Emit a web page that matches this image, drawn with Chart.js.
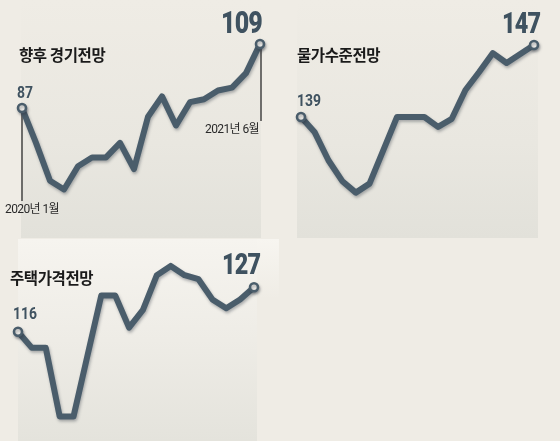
<!DOCTYPE html>
<html><head><meta charset="utf-8">
<script src="https://cdn.jsdelivr.net/npm/chart.js@4.4.1/dist/chart.umd.min.js"></script>
<style>
html,body{margin:0;padding:0;}
body{width:560px;height:441px;background:#efece5;position:relative;overflow:hidden;font-family:"Noto Sans CJK KR","Noto Sans",sans-serif;}
.panel{position:absolute;}
.cv{position:absolute;}
.t{position:absolute;white-space:nowrap;line-height:1;}
.title{font-family:"Noto Sans CJK KR",sans-serif;font-weight:700;font-size:15.5px;color:#1a1a1a;letter-spacing:-0.4px;}
.big{font-family:Roboto,"Liberation Sans",sans-serif;font-weight:900;color:#3f5260;transform-origin:left top;transform:scaleX(0.78);letter-spacing:-1px;}
.num{font-family:Roboto,"Liberation Sans",sans-serif;font-weight:700;color:#3f5260;font-size:17px;transform-origin:left top;transform:scaleX(0.82);}
.date{font-family:Roboto,"Noto Sans CJK KR",sans-serif;font-size:12px;color:#2a2a2a;letter-spacing:-0.6px;}
</style></head>
<body>
<div class="panel" style="left:21px;top:0;width:240px;height:238px;background:linear-gradient(to bottom,rgba(239,236,229,0) 0%,#e9e7e0 60%,#e2e1da 100%);"></div>
<div class="panel" style="left:297px;top:0;width:241px;height:238px;background:linear-gradient(to bottom,rgba(239,236,229,0) 0%,#e9e7e0 60%,#e2e1da 100%);"></div>
<div class="panel" style="left:21px;top:239px;width:258px;height:60px;background:linear-gradient(to bottom,#f7f5f0,rgba(247,245,240,0));"></div>
<div class="panel" style="left:18px;top:239px;width:239px;height:202px;background:linear-gradient(to bottom,#f6f4ef 0%,#eeece6 50%,#e4e3dc 100%);"></div>

<canvas id="c1" class="cv" style="left:12px;top:0;"></canvas>
<canvas id="c2" class="cv" style="left:291px;top:0;"></canvas>
<canvas id="c3" class="cv" style="left:8px;top:239px;"></canvas>

<div class="t title" style="left:19px;top:47px;">향후 경기전망</div>
<div class="t num" style="left:17px;top:84px;">87</div>
<div class="t big" style="left:221px;top:6px;font-size:32px;">109</div>
<div class="t date" style="left:205px;top:123px;">2021년 6월</div>
<div class="t date" style="left:5px;top:203px;">2020년 1월</div>

<div class="t title" style="left:297px;top:47px;">물가수준전망</div>
<div class="t num" style="left:297px;top:92px;">139</div>
<div class="t big" style="left:502px;top:8px;font-size:30px;">147</div>

<div class="t title" style="left:10px;top:270px;">주택가격전망</div>
<div class="t num" style="left:13px;top:305px;">116</div>
<div class="t big" style="left:222px;top:249px;font-size:30px;">127</div>

<script>
const months = ["2020-01","2020-02","2020-03","2020-04","2020-05","2020-06","2020-07","2020-08","2020-09","2020-10","2020-11","2020-12","2021-01","2021-02","2021-03","2021-04","2021-05","2021-06"];
const economyOutlook = [87,75,62,59,67,70,70,75,66,84,91,81,89,90,93,94,99,109];
const priceOutlook = [139,137.3,134.2,131.9,130.6,131.6,135.3,139,139,139,137.9,138.8,142,144,146.1,145,146,147];
const housingOutlook = [116,112,112,95,95,110,125,125,117,121.4,130,132.3,130,129,124,121.8,124,127];

const LINE = '#4a5d6b';
const PAD = 10;

const shadowPlugin = {
  id:'shadow',
  beforeDatasetsDraw(chart){const c=chart.ctx;c.save();c.shadowColor='rgba(40,50,60,0.35)';c.shadowBlur=3;c.shadowOffsetX=1;c.shadowOffsetY=2;},
  afterDatasetsDraw(chart){chart.ctx.restore();}
};
const leaderPlugin = {
  id:'leader',
  beforeDatasetsDraw(chart, args, opts){
    if(!opts || !opts.lines) return;
    const meta = chart.getDatasetMeta(0);
    const c = chart.ctx; c.save();
    c.strokeStyle='#2b2b2b'; c.lineWidth=1.3;
    opts.lines.forEach(l=>{
      const p = meta.data[l.index];
      c.beginPath(); c.moveTo(p.x+(l.dx||0), p.y); c.lineTo(p.x+(l.dx||0), l.toY); c.stroke();
    });
    c.restore();
  }
};

function make(id, data, w, h, min, max, leaders){
  const cv = document.getElementById(id);
  const W = w + 2*PAD;
  cv.width = W; cv.height = h;
  cv.style.width = W+'px'; cv.style.height = h+'px';
  const n = data.length;
  const edge = ctx => (ctx.dataIndex===0 || ctx.dataIndex===n-1);
  return new Chart(cv, {
    type:'line',
    data:{labels:months, datasets:[{
      data:data,
      borderColor:LINE, borderWidth:6, tension:0,
      borderJoinStyle:'round', borderCapStyle:'round',
      pointRadius: ctx=> edge(ctx)?4:0,
      pointBackgroundColor:'#f4f2ee', pointBorderColor:LINE, pointBorderWidth:2.6,
      pointHoverRadius:0, clip:false, fill:false
    }]},
    options:{
      responsive:false, maintainAspectRatio:false, animation:false,
      layout:{padding:{left:PAD,right:PAD,top:0,bottom:0}, autoPadding:false},
      plugins:{legend:{display:false}, tooltip:{enabled:false}, leader:{lines:leaders}},
      events:[],
      scales:{
        x:{type:'category', display:false, offset:false},
        y:{type:'linear', display:false, min:min, max:max}
      }
    },
    plugins:[leaderPlugin, shadowPlugin]
  });
}
make('c1', economyOutlook, 238, 238, 42.31, 124.125, [{index:0,toY:201},{index:17,toY:121,dx:1}]);
make('c2', priceOutlook, 233, 238, 125.56, 152, null);
make('c3', housingOutlook, 236, 202, 88.92, 138.97, null);
</script>
</body></html>
